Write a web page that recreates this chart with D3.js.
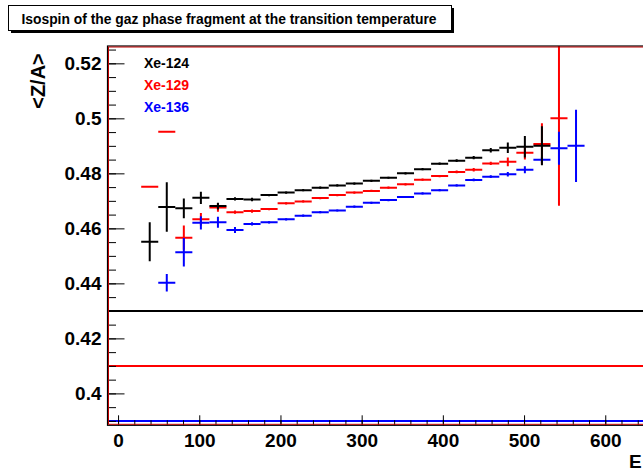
<!DOCTYPE html>
<html>
<head>
<meta charset="utf-8">
<script src="https://cdn.jsdelivr.net/npm/d3@7"></script>
<style>
  body { margin: 0; background: white; }
  svg { display: block; font-family: "Liberation Sans", Arial, Helvetica, sans-serif; }
</style>
</head>
<body>
<div id="chart"></div>
<script>
// bin centres (energy), half width of each bin
const binCenters = [39, 60, 81, 102, 123, 144, 165, 186, 207, 228, 249, 270, 291, 312, 333,
                    354, 375, 396, 417, 438, 459, 480, 501, 522, 543, 564];
const binHalfWidth = 10.5;

// <Z/A> per bin
const xe124 = [0.4551, 0.4678, 0.4673, 0.4711, 0.4681, 0.4707, 0.4705, 0.4721, 0.4730, 0.4739,
               0.4748, 0.4756, 0.4763, 0.4773, 0.4784, 0.4800, 0.4815, 0.4835, 0.4846, 0.4857,
               0.4884, 0.4893, 0.4897, 0.4900];
const err124 = [0.0071, 0.0090, 0.0036, 0.0022, 0.0012, 0.0006, 0.0006, 0.0004, 0.0004, 0.0004,
                0.0004, 0.0004, 0.0004, 0.0004, 0.0004, 0.0004, 0.0004, 0.0004, 0.0005, 0.0006,
                0.0008, 0.0019, 0.0039, 0.0071];

const xe129 = [0.4751, 0.4951, 0.4566, 0.4633, 0.4676, 0.4659, 0.4663, 0.4670, 0.4691, 0.4698,
               0.4710, 0.4721, 0.4730, 0.4736, 0.4748, 0.4760, 0.4777, 0.4790, 0.4805, 0.4813,
               0.4836, 0.4842, 0.4875, 0.4907, 0.5000];
const err129 = [0, 0, 0.0044, 0.0023, 0.0016, 0.0006, 0.0006, 0.0004, 0.0004, 0.0004,
                0.0004, 0.0004, 0.0004, 0.0004, 0.0004, 0.0004, 0.0004, 0.0004, 0.0005, 0.0006,
                0.0006, 0.0016, 0.0025, 0.0075, 0.0318];

const xe136 = [null, 0.4402, 0.4513, 0.4620, 0.4622, 0.4594, 0.4616, 0.4622, 0.4633, 0.4646,
               0.4659, 0.4665, 0.4679, 0.4693, 0.4703, 0.4714, 0.4727, 0.4739, 0.4756, 0.4776,
               0.4788, 0.4797, 0.4813, 0.4849, 0.4891, 0.4900];
const err136 = [null, 0.0032, 0.0052, 0.0024, 0.0020, 0.0011, 0.0006, 0.0004, 0.0004, 0.0004,
                0.0004, 0.0004, 0.0004, 0.0004, 0.0004, 0.0004, 0.0004, 0.0004, 0.0004, 0.0005,
                0.0005, 0.0008, 0.0013, 0.0010, 0.0060, 0.0131];

// horizontal reference levels
const refLevels = [0.43, 0.41, 0.39];

const seriesNames = ["Xe-124", "Xe-129", "Xe-136"];
const yTicks = [0.40, 0.42, 0.44, 0.46, 0.48, 0.50, 0.52];
const xTicks = [0, 100, 200, 300, 400, 500, 600];

const width = 643, height = 471;
const colors = ["#000000", "#ff0000", "#0000ff"];
const frame = { left: 107.5, top: 46, bottom: 425.3, right: 702.7 };

const svg = d3.select("#chart").append("svg")
    .attr("width", width).attr("height", height)
    .attr("viewBox", [0, 0, width, height]);

const x = d3.scaleLinear().domain([-13, 720]).range([frame.left, frame.right]);
const y = d3.scaleLinear().domain([0.3884, 0.5263]).range([frame.bottom, frame.top]);

svg.append("clipPath").attr("id", "plot")
  .append("rect")
    .attr("x", frame.left).attr("y", frame.top)
    .attr("width", frame.right - frame.left).attr("height", frame.bottom - frame.top);

// reference lines
svg.append("g").attr("clip-path", "url(#plot)")
  .selectAll("line")
  .data(refLevels)
  .join("line")
    .attr("x1", frame.left).attr("x2", width + 80)
    .attr("y1", d => y(d)).attr("y2", d => y(d))
    .attr("stroke", (d, i) => colors[i])
    .attr("stroke-width", 2);

// error-bar crosses, red and blue under black
const series = [
  { vals: xe129, errs: err129, color: colors[1] },
  { vals: xe136, errs: err136, color: colors[2] },
  { vals: xe124, errs: err124, color: colors[0] }
];

const marks = svg.append("g").attr("clip-path", "url(#plot)");
series.forEach(s => {
  const pts = s.vals.map((v, i) => ({ c: binCenters[i], v: v, e: s.errs[i] }))
      .filter(d => d.v != null);
  const g = marks.append("g").attr("stroke", s.color).attr("stroke-width", 2);
  g.selectAll(".h").data(pts).join("line").attr("class", "h")
      .attr("x1", d => x(d.c - binHalfWidth)).attr("x2", d => x(d.c + binHalfWidth))
      .attr("y1", d => y(d.v)).attr("y2", d => y(d.v));
  g.selectAll(".v").data(pts.filter(d => d.e > 0)).join("line").attr("class", "v")
      .attr("x1", d => x(d.c)).attr("x2", d => x(d.c))
      .attr("y1", d => y(d.v - d.e)).attr("y2", d => y(d.v + d.e));
});

// axes (ticks point inwards, ROOT style)
const yMinor = d3.range(0.39, 0.5263, 0.005);
svg.append("g").attr("transform", `translate(${frame.left},0)`)
    .call(d3.axisLeft(y).tickValues(yMinor).tickSizeInner(-8.5).tickSizeOuter(0).tickFormat(""))
    .call(g => g.select(".domain").remove());
svg.append("g").attr("transform", `translate(${frame.left},0)`)
    .call(d3.axisLeft(y).tickValues(yTicks).tickSizeInner(-17).tickSizeOuter(0).tickPadding(6)
        .tickFormat(d => d3.format("")(+d.toFixed(2))))
    .call(g => g.select(".domain").remove())
    .call(g => g.selectAll("text").style("font-size", "19px").style("font-weight", "bold").attr("fill", "#000"));

const xMinor = d3.range(0, 720, 20);
svg.append("g").attr("transform", `translate(0,${frame.bottom})`)
    .call(d3.axisBottom(x).tickValues(xMinor).tickSizeInner(-5).tickSizeOuter(0).tickFormat(""))
    .call(g => g.select(".domain").remove());
svg.append("g").attr("transform", `translate(0,${frame.bottom})`)
    .call(d3.axisBottom(x).tickValues(xTicks).tickSizeInner(-10).tickSizeOuter(0).tickPadding(8))
    .call(g => g.select(".domain").remove())
    .call(g => g.selectAll("text").style("font-size", "19px").style("font-weight", "bold").attr("fill", "#000"));

// frame: dark line with red edge inside
const f = svg.append("g").attr("fill", "none");
f.append("rect")
    .attr("x", frame.left).attr("y", frame.top)
    .attr("width", frame.right - frame.left).attr("height", frame.bottom - frame.top)
    .attr("stroke", "#000").attr("stroke-width", 1.2);
f.append("rect")
    .attr("x", frame.left + 1).attr("y", frame.top + 1)
    .attr("width", frame.right - frame.left - 2).attr("height", frame.bottom - frame.top - 2)
    .attr("stroke", "#c00000").attr("stroke-width", 1);

// axis titles
svg.append("text")
    .attr("transform", "translate(45,81) rotate(-90)")
    .attr("text-anchor", "middle")
    .style("font-size", "20px").style("font-weight", "bold")
    .text("<Z/A>");

svg.append("text")
    .attr("x", 629).attr("y", 468)
    .style("font-size", "19px").style("font-weight", "bold")
    .text("E");

// legend
svg.append("g").selectAll("text")
  .data(seriesNames)
  .join("text")
    .attr("x", 144).attr("y", (d, i) => 67.5 + i * 22)
    .attr("fill", (d, i) => colors[i])
    .style("font-size", "14px").style("font-weight", "bold")
    .text(d => d);

// title box with shadow
svg.append("rect").attr("x", 11).attr("y", 8).attr("width", 443).attr("height", 25).attr("fill", "#000");
svg.append("rect").attr("x", 8.5).attr("y", 5.5).attr("width", 443).attr("height", 25)
    .attr("fill", "#fff").attr("stroke", "#000").attr("stroke-width", 1);
svg.append("text")
    .attr("x", 21.5).attr("y", 24)
    .attr("textLength", 415).attr("lengthAdjust", "spacingAndGlyphs")
    .style("font-size", "14px").style("font-weight", "bold")
    .text("Isospin of the gaz phase fragment at the transition temperature");
</script>
</body>
</html>
